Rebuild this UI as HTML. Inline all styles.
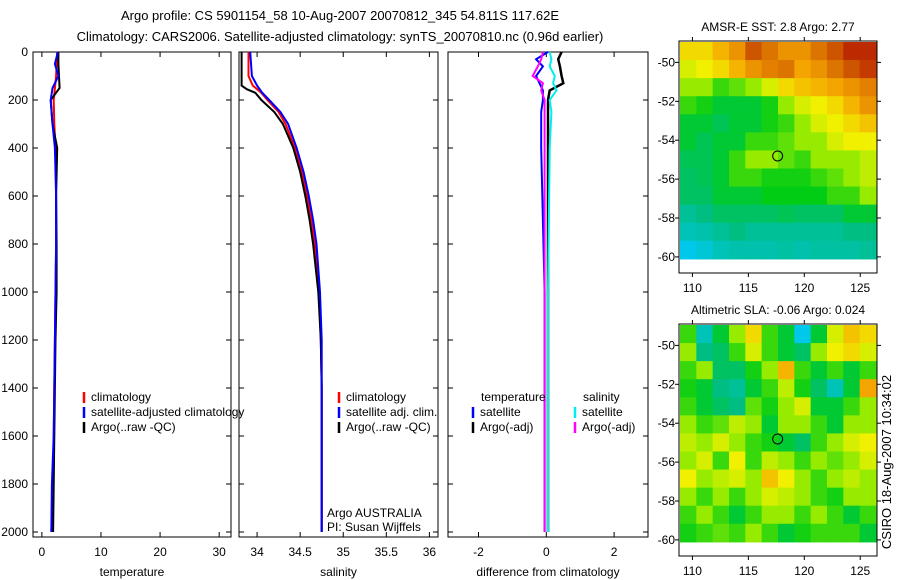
<!DOCTYPE html>
<html><head><meta charset="utf-8"><style>
body{margin:0;background:#fff;}
svg{display:block;font-family:"Liberation Sans",sans-serif;font-size:12px;}
</style></head><body>
<svg id="c" width="900" height="580"></svg>
<script>
const depths=[0,50,100,150,200,300,400,600,800,1000,1200,1400,1600,1800,2000];
const tempClim=[2.6,2.5,2.4,2.2,2.0,2.1,2.3,2.4,2.4,2.3,2.2,2.1,2.0,1.9,1.7];
const tempArgo=[2.8,2.8,2.9,3.0,1.5,1.8,2.6,2.4,2.5,2.5,2.3,2.2,2.1,2.0,1.9];
const tempSat=[2.7,2.2,2.8,1.8,1.5,1.8,2.2,2.4,2.4,2.3,2.2,2.1,2.0,1.7,1.6];
const salDepths=[0,100,140,155,170,200,250,300,400,500,600,700,800,1000,1200,1400,2000];
const salArgo=[33.82,33.82,33.82,33.88,33.98,34.05,34.2,34.3,34.42,34.5,34.56,34.61,34.65,34.71,34.74,34.75,34.75];
const salClim=[33.9,33.9,33.95,34.0,34.05,34.12,34.25,34.33,34.44,34.52,34.58,34.63,34.67,34.72,34.74,34.75,34.75];
const salSat=[33.92,33.94,34.0,34.03,34.06,34.14,34.27,34.36,34.46,34.54,34.6,34.65,34.69,34.73,34.75,34.75,34.75];
const diffDepths=[0,30,60,100,130,160,200,250,400,1000,2000];
const diffTempArgo=[0.45,0.35,0.4,0.45,0.5,0.1,0.05,0.05,0.05,0.05,0.05];
const diffTempSat=[0.05,-0.3,-0.1,-0.3,-0.2,-0.1,-0.1,-0.15,-0.15,-0.05,-0.05];
const diffSalArgo=[-0.1,-0.15,-0.25,-0.4,-0.1,-0.15,-0.05,-0.05,-0.05,-0.05,-0.05];
const diffSalSat=[0.1,0.15,0.1,0.25,0.2,0.3,0.1,0.15,0.1,0.05,0.05];
const depthTicks=[0,200,400,600,800,1000,1200,1400,1600,1800,2000];
const tempTicks=[0,10,20,30];
const salTicks=[34,34.5,35,35.5,36];
const diffTicks=[-2,0,2];
const latTicks=[-50,-52,-54,-56,-58,-60];
const lonTicks=[110,115,120,125];
const sstGrid=[
[0.65,0.65,0.7,0.75,0.85,0.8,0.75,0.75,0.8,0.85,0.9,0.9],
[0.6,0.62,0.65,0.7,0.75,0.78,0.8,0.72,0.75,0.8,0.85,0.88],
[0.55,0.55,0.5,0.52,0.55,0.6,0.65,0.68,0.7,0.72,0.75,0.78],
[0.5,0.48,0.45,0.45,0.45,0.48,0.55,0.6,0.62,0.65,0.7,0.75],
[0.45,0.45,0.43,0.45,0.45,0.48,0.5,0.55,0.6,0.62,0.65,0.68],
[0.45,0.43,0.45,0.45,0.5,0.5,0.52,0.55,0.55,0.6,0.62,0.62],
[0.43,0.43,0.45,0.5,0.55,0.55,0.52,0.5,0.55,0.55,0.55,0.58],
[0.42,0.43,0.45,0.5,0.5,0.48,0.48,0.48,0.5,0.52,0.55,0.58],
[0.42,0.42,0.45,0.45,0.45,0.47,0.47,0.47,0.47,0.5,0.5,0.55],
[0.38,0.4,0.42,0.42,0.42,0.42,0.43,0.42,0.42,0.42,0.45,0.45],
[0.35,0.36,0.38,0.4,0.38,0.38,0.38,0.38,0.38,0.38,0.4,0.4],
[0.3,0.32,0.35,0.36,0.36,0.36,0.37,0.36,0.37,0.37,0.37,0.38]];
const slaGrid=[
[0.5,0.35,0.45,0.55,0.65,0.5,0.45,0.3,0.45,0.6,0.68,0.65],
[0.55,0.4,0.42,0.5,0.6,0.5,0.45,0.42,0.55,0.62,0.65,0.6],
[0.5,0.55,0.42,0.42,0.48,0.55,0.7,0.5,0.45,0.5,0.45,0.5],
[0.48,0.45,0.4,0.38,0.45,0.5,0.58,0.48,0.42,0.35,0.45,0.72],
[0.5,0.45,0.42,0.4,0.52,0.48,0.55,0.6,0.45,0.45,0.5,0.55],
[0.55,0.5,0.52,0.58,0.55,0.45,0.55,0.55,0.5,0.45,0.55,0.55],
[0.58,0.55,0.6,0.55,0.5,0.48,0.45,0.42,0.5,0.55,0.6,0.62],
[0.55,0.6,0.5,0.62,0.5,0.58,0.55,0.5,0.55,0.52,0.55,0.6],
[0.62,0.55,0.58,0.6,0.55,0.68,0.62,0.55,0.5,0.55,0.58,0.55],
[0.55,0.5,0.55,0.5,0.55,0.6,0.58,0.55,0.5,0.48,0.55,0.55],
[0.5,0.55,0.5,0.45,0.5,0.55,0.55,0.5,0.55,0.5,0.45,0.5],
[0.48,0.5,0.52,0.5,0.55,0.5,0.45,0.48,0.5,0.5,0.5,0.45]];

const NS='http://www.w3.org/2000/svg';
const svg=document.getElementById('c');
function mk(tag,attrs,parent){const e=document.createElementNS(NS,tag);for(const k in attrs)e.setAttribute(k,attrs[k]);(parent||svg).appendChild(e);return e;}
function txt(x,y,s,anchor,parent){const t=mk('text',{x:x,y:y,'text-anchor':anchor||'middle'},parent);t.textContent=s;return t;}

const yTop=52,yPerM=0.24;
function yD(d){return yTop+d*yPerM;}
const panels=[
 {x0:33,x1:231,vmin:-1.5,vmax:32,ticks:tempTicks,label:'temperature',name:'temperature-panel'},
 {x0:239,x1:438,vmin:33.79,vmax:36.1,ticks:salTicks,label:'salinity',name:'salinity-panel'},
 {x0:448,x1:648,vmin:-2.9,vmax:3.0,ticks:diffTicks,label:'difference from climatology',name:'difference-panel'}];
panels.forEach((p,i)=>{
  p.sx=v=>p.x0+(v-p.vmin)/(p.vmax-p.vmin)*(p.x1-p.x0);
  const g=mk('g',{});
  
  
  mk('rect',{x:p.x0,y:yTop,width:p.x1-p.x0,height:485,fill:'none',stroke:'#000'},g);
  p.ticks.forEach(t=>{const x=p.sx(t);
    mk('line',{x1:x,x2:x,y1:yTop,y2:yTop+5,stroke:'#000'},g);
    mk('line',{x1:x,x2:x,y1:537,y2:532,stroke:'#000'},g);
    const l=txt(x,556,String(t),'middle',g);
    
    });
  depthTicks.forEach(d=>{const y=yD(d);
    mk('line',{x1:p.x0,x2:p.x0+5,y1:y,y2:y,stroke:'#000'},g);
    mk('line',{x1:p.x1,x2:p.x1-5,y1:y,y2:y,stroke:'#000'},g);
    if(i===0){const l=txt(28,y+4,String(d),'end',g);
      
      }});
  const xl=txt((p.x0+p.x1)/2,576,p.label,'middle',g);
  
  
});
function line(p,ds,vs,color,w,name){
  const pts=ds.map((d,k)=>p.sx(vs[k]).toFixed(1)+','+yD(d).toFixed(1)).join(' ');
  const e=mk('polyline',{points:pts,fill:'none',stroke:color,'stroke-width':w});
  
  
}
line(panels[0],depths,tempClim,'#f00',2,'temp-climatology-line');
line(panels[0],depths,tempArgo,'#000',2,'temp-argo-line');
line(panels[0],depths,tempSat,'#00f',2,'temp-satellite-line');
line(panels[1],salDepths,salClim,'#f00',2,'sal-climatology-line');
line(panels[1],salDepths,salArgo,'#000',2,'sal-argo-line');
line(panels[1],salDepths,salSat,'#00f',2,'sal-satellite-line');
line(panels[2],diffDepths,diffTempArgo,'#000',2.5,'diff-temp-argo-line');
line(panels[2],diffDepths,diffSalSat,'#0ee',2,'diff-sal-satellite-line');
line(panels[2],diffDepths,diffTempSat,'#00f',2,'diff-temp-satellite-line');
line(panels[2],diffDepths,diffSalArgo,'#f0f',2,'diff-sal-argo-line');

function legend(x,y,color,label){
  const g=mk('g',{});
  
  
  mk('line',{x1:x,x2:x,y1:y-9,y2:y+2,stroke:color,'stroke-width':2.5},g);
  txt(x+7,y,label,'start',g);
}
legend(84,401,'#f00','climatology');
legend(84,416,'#00f','satellite-adjusted climatology');
legend(84,431,'#000','Argo(..raw -QC)');
legend(339,401,'#f00','climatology');
legend(339,416,'#00f','satellite adj. clim.');
legend(339,431,'#000','Argo(..raw -QC)');
txt(481,401,'temperature','start');
txt(583,401,'salinity','start');
legend(473,416,'#00f','satellite');
legend(473,431,'#000','Argo(-adj)');
legend(575,416,'#0ee','satellite');
legend(575,431,'#f0f','Argo(-adj)');
txt(327,517,'Argo AUSTRALIA','start');
txt(327,531,'PI: Susan Wijffels','start');

const t1=txt(340,20,'Argo profile: CS 5901154_58 10-Aug-2007 20070812_345 54.811S 117.62E');


const t2=txt(340,41,'Climatology: CARS2006. Satellite-adjusted climatology: synTS_20070810.nc (0.96d earlier)');


t1.setAttribute('font-size','13');t2.setAttribute('font-size','13');

const stops=[[0.3,[0,200,235]],[0.4,[0,190,130]],[0.47,[0,205,20]],[0.55,[150,235,0]],[0.62,[240,240,0]],[0.72,[245,165,0]],[0.85,[205,85,0]],[0.95,[170,0,0]]];
function cmap(v){
  if(v<=stops[0][0])return stops[0][1];
  for(let i=1;i<stops.length;i++){if(v<=stops[i][0]){const a=stops[i-1],b=stops[i],f=(v-a[0])/(b[0]-a[0]);return a[1].map((c,k)=>Math.round(c+(b[1][k]-c)*f));}}
  return stops[stops.length-1][1];
}
function map(y0,title,grid,name){
  const x0=679,x1=877,lonMin=108.8,lonMax=126.5;
  const sx=l=>x0+(l-lonMin)/(lonMax-lonMin)*(x1-x0);
  const latTop=-48.9,ppd=19.45;
  const sy=l=>y0+(latTop-l)*ppd;
  const g=mk('g',{});
  
  
  const rows=grid.length,cols=grid[0].length;
  const gx0=x0+1,gx1=876,gy0=y0+1,gy1=sy(-60.1);
  const cw=(gx1-gx0)/cols,ch=(gy1-gy0)/rows;
  grid.forEach((r,ri)=>r.forEach((v,ci)=>{
    const c=cmap(v);
    const cell=mk('rect',{x:gx0+ci*cw,y:gy0+ri*ch,width:cw+0.6,height:ch+0.6,fill:'rgb('+c.join(',')+')'},g);
    
    
  }));
  mk('rect',{x:x0,y:y0,width:x1-x0,height:232,fill:'none',stroke:'#000'},g);
  latTicks.forEach(l=>{const y=sy(l);
    mk('line',{x1:x0,x2:x0-4,y1:y,y2:y,stroke:'#000'},g);
    mk('line',{x1:x1,x2:x1+4,y1:y,y2:y,stroke:'#000'},g);
    txt(x0-4,y+4,String(l),'end',g);});
  lonTicks.forEach(l=>{const x=sx(l);
    mk('line',{x1:x,x2:x,y1:y0,y2:y0-4,stroke:'#000'},g);
    mk('line',{x1:x,x2:x,y1:y0+232,y2:y0+236,stroke:'#000'},g);
    txt(x,y0+251,String(l),'middle',g);});
  mk('circle',{cx:sx(117.62),cy:sy(-54.811),r:5,fill:'none',stroke:'#000'},g);
  txt(778,y0-10,title,'middle',g);
}
map(41,'AMSR-E SST: 2.8 Argo: 2.77',sstGrid,'sst-map');
map(324,'Altimetric SLA: -0.06 Argo: 0.024',slaGrid,'sla-map');
const cs=txt(0,0,'CSIRO 18-Aug-2007 10:34:02','middle');
cs.setAttribute('transform','translate(891,462) rotate(-90)');
cs.setAttribute('font-size','13');


</script>
</body></html>
